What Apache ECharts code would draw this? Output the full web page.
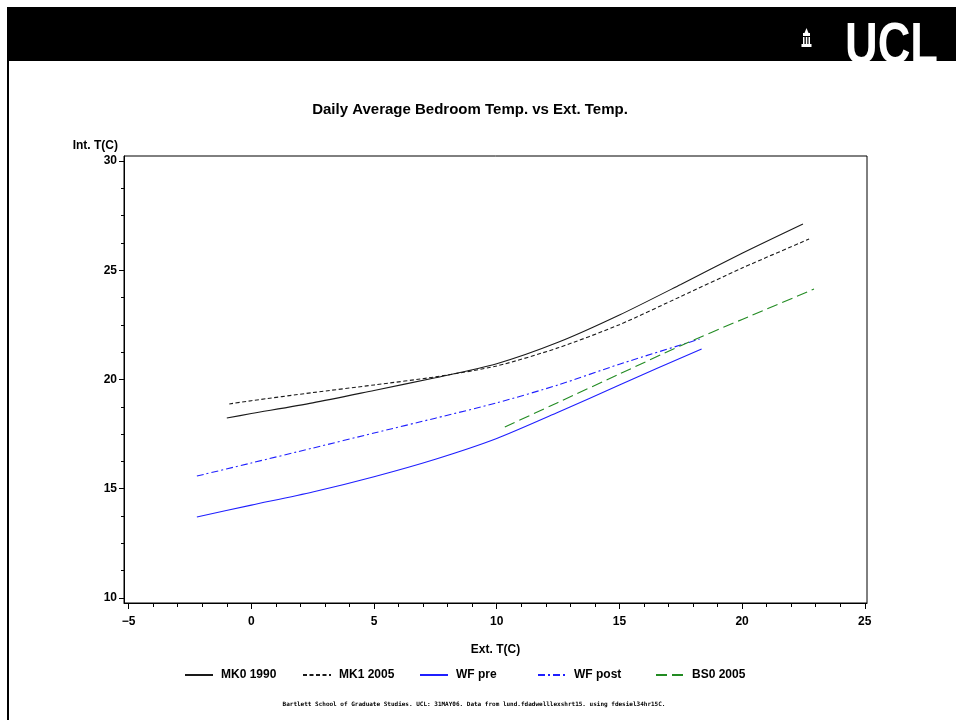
<!DOCTYPE html>
<html>
<head>
<meta charset="utf-8">
<title>Daily Average Bedroom Temp. vs Ext. Temp.</title>
<script src="https://cdn.jsdelivr.net/npm/echarts@6/dist/echarts.min.js"></script>
<style>
  html, body { margin: 0; padding: 0; background: #fff; }
  #chart { width: 956px; height: 720px; }
</style>
</head>
<body>
<div id="chart"></div>
<script>
// Fitted daily-average curves: external temperature (C) vs bedroom temperature (C)
const mk0Ext = [-1.0, 0, 2.5, 5, 7.5, 10, 12.5, 15, 17.5, 20, 22.48];
const mk0Int = [18.24, 18.44, 18.93, 19.5, 20.08, 20.72, 21.7, 22.95, 24.35, 25.78, 27.12];

const mk1Ext = [-0.9, 0, 2.5, 5, 7.5, 10, 12.5, 15, 17.5, 20, 22.73];
const mk1Int = [18.88, 19.03, 19.4, 19.75, 20.12, 20.62, 21.45, 22.51, 23.8, 25.1, 26.43];

const wfPreExt = [-2.22, 0, 2.5, 5, 7.5, 10, 12.5, 15, 18.35];
const wfPreInt = [13.71, 14.25, 14.85, 15.55, 16.35, 17.3, 18.5, 19.75, 21.4];

const wfPostExt = [-2.22, 0, 2.5, 5, 7.5, 10, 12.5, 15, 18.27];
const wfPostInt = [15.58, 16.18, 16.86, 17.55, 18.23, 18.93, 19.75, 20.7, 21.85];

const bs0Ext = [10.33, 12.5, 15, 17.5, 20, 22.93];
const bs0Int = [17.83, 18.95, 20.25, 21.55, 22.75, 24.14];

const seriesNames = ['MK0 1990', 'MK1 2005', 'WF pre', 'WF post', 'BS0 2005'];

// Axis ticks and their labels
const xTicks = [-5, 0, 5, 10, 15, 20, 25];
const xTickLabels = ['\u22125', '0', '5', '10', '15', '20', '25'];
const xMinorTicks = [-4, -3, -2, -1, 1, 2, 3, 4, 6, 7, 8, 9, 11, 12, 13, 14, 16, 17, 18, 19, 21, 22, 23, 24];
const yTicks = [10, 15, 20, 25, 30];
const yTickLabels = ['10', '15', '20', '25', '30'];
const yMinorTicks = [11.25, 12.5, 13.75, 16.25, 17.5, 18.75, 21.25, 22.5, 23.75, 26.25, 27.5, 28.75];

const titleText = 'Daily Average Bedroom Temp. vs Ext. Temp.';
const footerText = 'Bartlett School of Graduate Studies. UCL: 31MAY06. Data from lund.fdadwelllexshrt15. using fdesiel34hr15C.';

const pairs = (xs, ys) => xs.map((x, i) => [x, ys[i]]);

const FONT = '"Liberation Sans", Arial, Helvetica, sans-serif';
const X_MIN = -5.19, X_MAX = 25.09, Y_MIN = 9.77, Y_MAX = 30.23;

// one legend block per series, laid out on a fixed pitch
const LEGEND_LEFT = [184, 302, 419, 537, 655];

const lineSeries = (name, xs, ys, color, dash) => ({
  name,
  type: 'line',
  data: pairs(xs, ys),
  smooth: 0.25,
  symbol: 'none',
  xAxisIndex: 0,
  yAxisIndex: 0,
  lineStyle: { color, width: 1.1, type: dash },
  itemStyle: { color },
  emphasis: { disabled: true },
  animation: false
});

const chart = echarts.init(document.getElementById('chart'), null, { renderer: 'canvas' });

chart.setOption({
  animation: false,
  backgroundColor: '#fff',
  textStyle: { fontFamily: FONT },
  grid: {
    left: 124, top: 156, width: 743, height: 447,
    show: true, borderColor: '#000', borderWidth: 1,
    containLabel: false, outerBoundsMode: 'none'
  },
  xAxis: [
    {
      type: 'value', min: X_MIN, max: X_MAX, gridIndex: 0,
      name: 'Ext. T(C)', nameLocation: 'middle', nameGap: 41,
      nameTextStyle: { fontFamily: FONT, fontWeight: 'bold', fontSize: 12, color: '#000' },
      axisLine: { show: true, onZero: false, lineStyle: { color: '#000', width: 1 } },
      axisTick: { show: true, customValues: xTicks, length: 6, lineStyle: { color: '#000' } },
      axisLabel: {
        customValues: xTicks, margin: 13,
        formatter: v => xTickLabels[xTicks.indexOf(v)],
        fontFamily: FONT, fontWeight: 'bold', fontSize: 12, color: '#000'
      },
      splitLine: { show: false }
    },
    {
      type: 'value', min: X_MIN, max: X_MAX, gridIndex: 0, position: 'bottom',
      axisLine: { show: false, onZero: false },
      axisTick: { show: true, customValues: xMinorTicks, length: 4, lineStyle: { color: '#000' } },
      axisLabel: { show: false },
      splitLine: { show: false }
    }
  ],
  yAxis: [
    {
      type: 'value', min: Y_MIN, max: Y_MAX, gridIndex: 0,
      name: 'Int. T(C)', nameLocation: 'end', nameGap: 10,
      nameTextStyle: {
        fontFamily: FONT, fontWeight: 'bold', fontSize: 12, color: '#000',
        align: 'right', verticalAlign: 'middle', padding: [0, 6, 0, 0]
      },
      axisLine: { show: true, onZero: false, lineStyle: { color: '#000', width: 1 } },
      axisTick: { show: true, customValues: yTicks, length: 5, lineStyle: { color: '#000' } },
      axisLabel: {
        customValues: yTicks, margin: 7,
        formatter: v => yTickLabels[yTicks.indexOf(v)],
        fontFamily: FONT, fontWeight: 'bold', fontSize: 12, color: '#000'
      },
      splitLine: { show: false }
    },
    {
      type: 'value', min: Y_MIN, max: Y_MAX, gridIndex: 0, position: 'left',
      axisLine: { show: false, onZero: false },
      axisTick: { show: true, customValues: yMinorTicks, length: 3, lineStyle: { color: '#000' } },
      axisLabel: { show: false },
      splitLine: { show: false }
    }
  ],
  legend: seriesNames.map((name, i) => ({
    data: [name],
    left: LEGEND_LEFT[i], top: 669,
    padding: 0,
    itemWidth: 28, itemHeight: 14, itemGap: 0,
    selectedMode: false,
    itemStyle: { opacity: 0 },
    textStyle: { fontFamily: FONT, fontWeight: 'bold', fontSize: 12, color: '#000', padding: [0, 0, 0, 3] }
  })),
  series: [
    lineSeries(seriesNames[0], mk0Ext, mk0Int, '#1a1a1a', 'solid'),
    lineSeries(seriesNames[1], mk1Ext, mk1Int, '#1a1a1a', [4, 2.5]),
    lineSeries(seriesNames[2], wfPreExt, wfPreInt, '#1f1fff', 'solid'),
    lineSeries(seriesNames[3], wfPostExt, wfPostInt, '#1f1fff', [7, 3, 2, 3]),
    lineSeries(seriesNames[4], bs0Ext, bs0Int, '#228b22', [11, 5])
  ],
  graphic: [
    // banner
    { type: 'rect', shape: { x: 7, y: 7, width: 949, height: 54 }, style: { fill: '#000' }, silent: true },
    { type: 'rect', shape: { x: 7, y: 60, width: 2, height: 660 }, style: { fill: '#000' }, silent: true },
    // portico emblem
    {
      type: 'group', x: 801, y: 28, silent: true,
      children: [
        { type: 'polygon', shape: { points: [[5.5, 0], [7.5, 5], [3.5, 5]] }, style: { fill: '#fff' } },
        { type: 'rect', shape: { x: 2, y: 5, width: 7, height: 3 }, style: { fill: '#fff' } },
        { type: 'rect', shape: { x: 2, y: 9, width: 1.5, height: 7 }, style: { fill: '#fff' } },
        { type: 'rect', shape: { x: 4.8, y: 9, width: 1.5, height: 7 }, style: { fill: '#fff' } },
        { type: 'rect', shape: { x: 7.5, y: 9, width: 1.5, height: 7 }, style: { fill: '#fff' } },
        { type: 'rect', shape: { x: 0.5, y: 16, width: 10, height: 3 }, style: { fill: '#fff' } }
      ]
    },
    // wordmark, clipped by the banner's lower edge
    {
      type: 'group', silent: true,
      children: [
        {
          type: 'text', x: 845, y: 76, scaleX: 0.78,
          style: {
            text: 'UCL', fill: '#fff', fontFamily: FONT, fontWeight: 'bold', fontSize: 58,
            textAlign: 'left', textVerticalAlign: 'bottom'
          }
        },
        { type: 'rect', shape: { x: 830, y: 61, width: 126, height: 20 }, style: { fill: '#fff' } }
      ]
    },
    // chart title
    {
      type: 'text', x: 470, y: 110, silent: true,
      style: {
        text: titleText, fill: '#000', fontFamily: FONT, fontWeight: 'bold', fontSize: 15,
        textAlign: 'center', textVerticalAlign: 'middle'
      }
    },
    // source note
    {
      type: 'text', x: 474, y: 704, silent: true,
      style: {
        text: footerText, fill: '#000', fontFamily: '"DejaVu Sans Mono", monospace', fontWeight: 'bold', fontSize: 6,
        textAlign: 'center', textVerticalAlign: 'middle'
      }
    }
  ]
});
</script>
</body>
</html>
